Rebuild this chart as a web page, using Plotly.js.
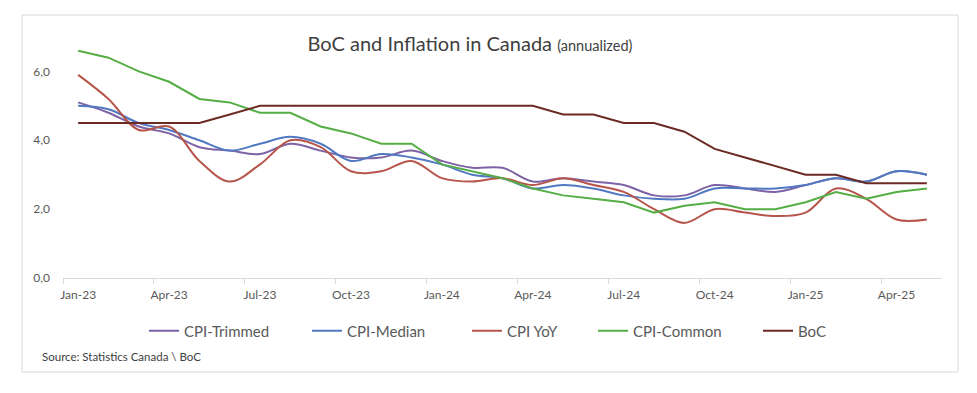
<!DOCTYPE html>
<html>
<head>
<meta charset="utf-8">
<script src="https://cdn.plot.ly/plotly-3.0.1.min.js"></script>
<style>html,body{margin:0;padding:0;background:#fff;}#chart{width:977px;height:393px;}</style>
</head>
<body>
<div id="chart"></div>
<script>
const months = ['Jan-23','Feb-23','Mar-23','Apr-23','May-23','Jun-23','Jul-23','Aug-23','Sep-23','Oct-23','Nov-23','Dec-23',
  'Jan-24','Feb-24','Mar-24','Apr-24','May-24','Jun-24','Jul-24','Aug-24','Sep-24','Oct-24','Nov-24','Dec-24',
  'Jan-25','Feb-25','Mar-25','Apr-25','May-25'];
const cpiTrimmed = [5.1,4.8,4.4,4.2,3.8,3.7,3.6,3.9,3.7,3.5,3.5,3.7,3.4,3.2,3.2,2.8,2.9,2.8,2.7,2.4,2.4,2.7,2.6,2.5,2.7,2.9,2.8,3.1,3.0];
const cpiMedian  = [5.0,4.9,4.5,4.3,4.0,3.7,3.9,4.1,3.9,3.4,3.6,3.5,3.3,3.0,2.9,2.6,2.7,2.6,2.4,2.3,2.3,2.6,2.6,2.6,2.7,2.9,2.8,3.1,3.0];
const cpiYoY     = [5.9,5.2,4.3,4.4,3.4,2.8,3.3,4.0,3.8,3.1,3.1,3.4,2.9,2.8,2.9,2.7,2.9,2.7,2.5,2.0,1.6,2.0,1.9,1.8,1.9,2.6,2.3,1.7,1.7];
const cpiCommon  = [6.6,6.4,6.0,5.7,5.2,5.1,4.8,4.8,4.4,4.2,3.9,3.9,3.3,3.1,2.9,2.6,2.4,2.3,2.2,1.9,2.1,2.2,2.0,2.0,2.2,2.5,2.3,2.5,2.6];
const boc        = [4.5,4.5,4.5,4.5,4.5,4.75,5.0,5.0,5.0,5.0,5.0,5.0,5.0,5.0,5.0,5.0,4.75,4.75,4.5,4.5,4.25,3.75,3.5,3.25,3.0,3.0,2.75,2.75,2.75];
const seriesNames = ['CPI-Trimmed','CPI-Median','CPI YoY','CPI-Common','BoC'];
const yTicks = [0,2,4,6];

const W = 977, H = 393;
const idx = months.map((m, i) => i);
const colors = ['#7E62A6','#5079C2','#B6554B','#55AE45','#6B2A24'];
const shapes = ['spline','spline','spline','linear','linear'];
const data = [cpiTrimmed, cpiMedian, cpiYoY, cpiCommon, boc];
const legendTextX = [184, 347, 507, 633, 798];

const traces = data.map((ys, k) => ({
  x: idx, y: ys, name: seriesNames[k], type: 'scatter', mode: 'lines',
  line: {color: colors[k], width: 2, shape: shapes[k], smoothing: 1},
  legend: k === 0 ? 'legend' : 'legend' + (k + 1),
  hoverinfo: 'skip'
}));

const font = 'Lato, "Open Sans", sans-serif';
const layout = {
  width: W, height: H,
  margin: {l: 63, r: 35, t: 37, b: 115},
  paper_bgcolor: '#ffffff', plot_bgcolor: '#ffffff',
  separators: ', ',
  font: {family: font, color: '#595959', size: 12},
  title: {
    text: 'BoC and Inflation in Canada <span style="font-size:14.5px">(annualized)</span>',
    font: {family: font, size: 20, color: '#404040'},
    x: 470 / W, xref: 'container', xanchor: 'center',
    y: 1 - 44 / H, yref: 'container', yanchor: 'middle'
  },
  xaxis: {
    range: [-0.5, months.length - 0.5],
    tickmode: 'array',
    tickvals: idx.filter(i => i % 3 === 0),
    ticktext: months.filter((m, i) => i % 3 === 0),
    ticks: '',
    showgrid: false, zeroline: false,
    showline: true, linecolor: '#d9d9d9', linewidth: 1,
    tickfont: {family: font, size: 12, color: '#595959'},
    ticklabelstandoff: 6,
    minor: {tick0: -0.5, dtick: 3, ticks: 'outside', ticklen: 5, tickcolor: '#d9d9d9', tickwidth: 1, showgrid: false}
  },
  yaxis: {
    range: [0, 7],
    tickmode: 'array', tickvals: yTicks,
    tickformat: '.1f',
    showgrid: false, zeroline: false, showline: false, ticks: '',
    tickfont: {family: font, size: 12, color: '#595959'},
    ticklabelstandoff: 12
  },
  shapes: [{
    type: 'rect', xref: 'paper', yref: 'paper',
    x0: (22 - 63) / 879, x1: (958 - 63) / 879,
    y0: (278 - 372) / 241, y1: (278 - 15) / 241,
    line: {color: '#d9d9d9', width: 1}, fillcolor: 'rgba(0,0,0,0)', layer: 'below'
  }],
  annotations: [{
    text: 'Source: Statistics Canada \\ BoC',
    xref: 'paper', yref: 'paper',
    x: (40 - 63) / 879, xanchor: 'left',
    y: (278 - 356) / 241, yanchor: 'middle',
    showarrow: false,
    font: {family: font, size: 11.5, color: '#404040'}
  }],
  showlegend: true
};
legendTextX.forEach((tx, k) => {
  const key = k === 0 ? 'legend' : 'legend' + (k + 1);
  layout[key] = {
    orientation: 'h', xref: 'container', yref: 'container',
    x: (tx - 40) / W, xanchor: 'left',
    y: 1 - 331 / H, yanchor: 'middle',
    bgcolor: 'rgba(0,0,0,0)', borderwidth: 0,
    font: {family: font, size: 15, color: '#595959'}
  };
});

Plotly.newPlot('chart', traces, layout, {displayModeBar: false, staticPlot: true});
</script>
</body>
</html>
